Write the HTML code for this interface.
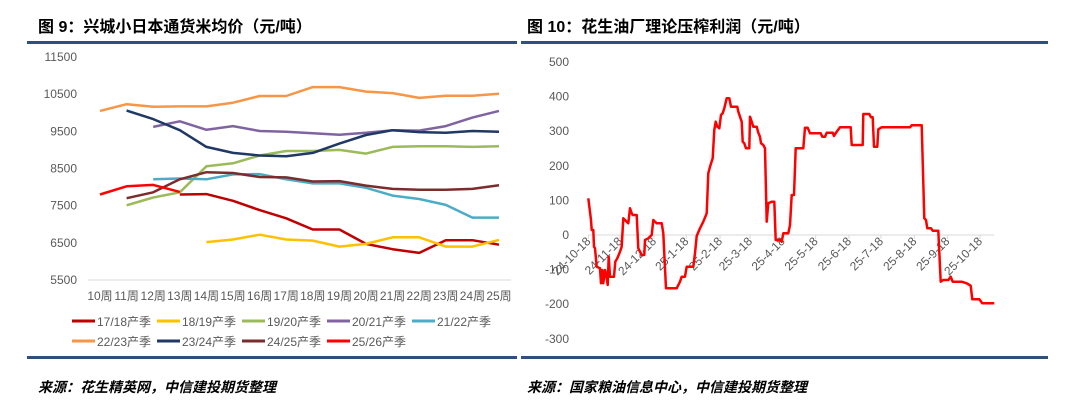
<!DOCTYPE html>
<html><head><meta charset="utf-8"><style>
html,body{margin:0;padding:0;background:#fff;width:1065px;height:406px;overflow:hidden}
svg{display:block}
.t{font-family:"Liberation Sans","Noto Sans CJK SC",sans-serif;font-weight:bold;font-size:16px;fill:#000}
.ax{font-family:"Liberation Sans","Noto Sans CJK SC",sans-serif;font-size:12px;fill:#595959}
.src{font-family:"Liberation Sans","Noto Sans CJK SC",sans-serif;font-size:14px;font-style:italic;font-weight:bold;fill:#000}
</style></head><body>
<svg id="s" width="1065" height="406" xmlns="http://www.w3.org/2000/svg">
<text class="t" x="38" y="32">图 9：兴城小日本通货米均价（元/吨）</text>
<text class="t" x="527" y="32">图 10：花生油厂理论压榨利润（元/吨）</text>
<rect x="27" y="41" width="490" height="3" fill="#2f4f7f"/>
<rect x="521" y="41" width="527" height="3" fill="#2f4f7f"/>
<rect x="27" y="356" width="490" height="3" fill="#2f4f7f"/>
<rect x="521" y="356" width="527" height="3" fill="#2f4f7f"/>
<text class="src" x="38" y="392">来源：花生精英网，中信建投期货整理</text>
<text class="src" x="527" y="392">来源：国家粮油信息中心，中信建投期货整理</text>
<g id="L"></g>
<g id="R"></g>
</svg>
<script>
var NS="http://www.w3.org/2000/svg";
function el(p,n,a,txt){var e=document.createElementNS(NS,n);for(var k in a)e.setAttribute(k,a[k]);if(txt!=null)e.textContent=txt;p.appendChild(e);return e;}
var L=document.getElementById('L'),R=document.getElementById('R');
function ly(v){return 280-(v-5500)/6000*223;}
el(L,'line',{x1:88,x2:511,y1:280,y2:280,stroke:'#d9d9d9','stroke-width':1});
[11500,10500,9500,8500,7500,6500,5500].forEach(function(v){el(L,'text',{class:'ax',x:77,y:ly(v)+4,'text-anchor':'end'},v);});
for(var i=0;i<16;i++){el(L,'text',{class:'ax',x:100+i*26.6,y:300,'text-anchor':'middle'},(10+i)+'周');}
var S=[
['17/18产季','#c00000',3,[7800,7810,7630,7380,7160,6860,6860,6470,6330,6230,6570,6570,6450]],
['18/19产季','#ffc000',4,[6520,6590,6720,6590,6560,6400,6470,6650,6650,6400,6400,6580]],
['19/20产季','#9bbb59',1,[7510,7720,7860,8560,8640,8850,8970,8970,9000,8900,9080,9100,9100,9080,9100]],
['20/21产季','#8064a2',2,[9620,9770,9540,9640,9510,9490,9450,9410,9460,9530,9520,9640,9870,10050]],
['21/22产季','#4bacc6',2,[8210,8230,8210,8340,8350,8210,8100,8100,7980,7770,7680,7520,7180,7180]],
['22/23产季','#f79646',0,[10050,10230,10160,10170,10170,10270,10450,10450,10690,10690,10570,10530,10400,10460,10460,10510]],
['23/24产季','#1f3864',1,[10060,9830,9530,9080,8920,8850,8830,8920,9170,9400,9530,9480,9460,9510,9490]],
['24/25产季','#7b2c2c',1,[7700,7860,8210,8400,8380,8270,8260,8150,8160,8040,7950,7930,7930,7950,8050]],
['25/26产季','#ff0000',0,[7800,8020,8060,7870]]
];
S.forEach(function(s,k){
 var pts=s[3].map(function(v,j){return (100+(s[2]+j)*26.6).toFixed(1)+','+ly(v).toFixed(1);}).join(' ');
 el(L,'polyline',{points:pts,fill:'none',stroke:s[1],'stroke-width':2.5,'stroke-linejoin':'round'});
 var row=k<5?0:1,col=k<5?k:k-5;var x=72+col*85,y=321+row*20;
 el(L,'line',{x1:x,x2:x+23,y1:y,y2:y,stroke:s[1],'stroke-width':3});
 el(L,'text',{class:'ax',x:x+25,y:y+5},s[0]);
});
function ry(v){return 235-v*0.346;}
el(R,'line',{x1:588,x2:994,y1:235,y2:235,stroke:'#d9d9d9','stroke-width':1});
[500,400,300,200,100,0,-100,-200,-300].forEach(function(v){el(R,'text',{class:'ax',x:569,y:ry(v)+4,'text-anchor':'end'},v);});
var tx=[175,270,372,469,570,660,758,857,957,1053,1153,1252,1350];
var lb=['24-10-18','24-11-18','24-12-18','25-1-18','25-2-18','25-3-18','25-4-18','25-5-18','25-6-18','25-7-18','25-8-18','25-9-18','25-10-18'];
tx.forEach(function(z,i){var x=530+z/3;el(R,'line',{x1:x,x2:x,y1:235,y2:239,stroke:'#d9d9d9'});
 el(R,'text',{class:'ax',x:x+3,y:242,'text-anchor':'end',transform:'rotate(-45 '+(x+3)+' 242)'},lb[i]);});
var Z=[175,475,183,540,185,570,190,570,192,620,195,625,200,680,210,685,213,730,217,690,220,730,225,690,228,700,233,735,236,650,240,710,252,710,256,665,262,655,270,635,275,620,280,535,290,545,295,550,300,505,305,520,308,525,320,525,325,625,330,635,335,645,343,645,345,600,355,595,365,585,370,540,375,545,380,550,395,550,400,580,408,745,440,745,450,725,455,710,465,710,470,680,490,680,495,640,500,588,510,565,520,545,530,520,535,400,540,380,548,355,553,270,557,245,562,260,568,265,573,225,578,220,583,205,590,175,598,175,603,200,622,200,625,215,630,230,635,245,638,305,643,310,648,325,658,325,660,230,665,245,670,260,680,260,685,278,690,290,693,310,700,315,705,325,710,545,715,490,725,485,733,485,737,600,750,600,755,605,760,580,775,580,780,555,785,465,792,465,797,325,820,325,825,263,833,263,840,280,872,280,877,290,885,290,890,278,908,278,912,288,918,278,930,262,962,262,965,315,998,315,1000,222,1018,222,1023,232,1028,232,1032,320,1042,320,1045,268,1055,262,1140,262,1145,256,1175,256,1183,535,1188,540,1192,565,1203,565,1208,572,1225,572,1232,725,1240,720,1255,720,1262,710,1268,725,1295,725,1310,730,1322,737,1327,778,1348,778,1357,790,1393,790];
var p=[];for(var i=0;i<Z.length;i+=2)p.push((530+Z[i]/3).toFixed(1)+','+(40+Z[i+1]/3).toFixed(1));
el(R,'polyline',{points:p.join(' '),fill:'none',stroke:'#ff0000','stroke-width':2.5,'stroke-linejoin':'round'});
</script>
</body></html>
